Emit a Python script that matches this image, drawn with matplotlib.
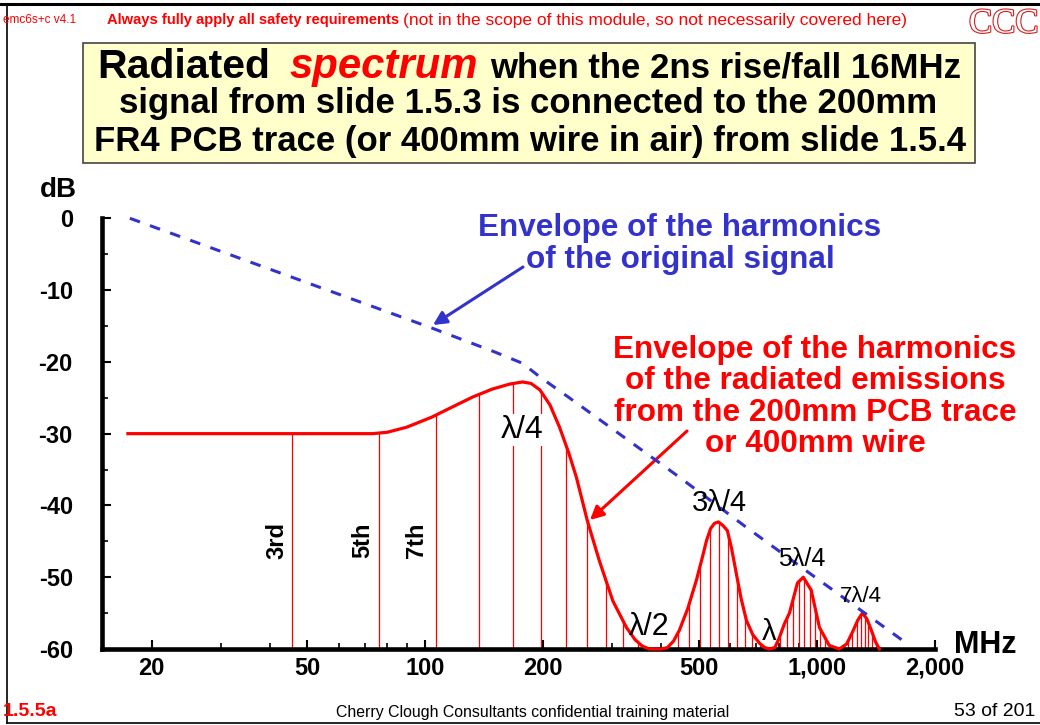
import matplotlib
matplotlib.use("Agg")
import matplotlib.pyplot as plt
import matplotlib.patheffects as pe
from matplotlib.lines import Line2D
from matplotlib.patches import Polygon, Rectangle
from matplotlib.ticker import NullFormatter

plt.rcParams['font.family'] = ['Liberation Sans', 'DejaVu Sans']

# envelope of the harmonics of the original signal (MHz, dB)
orig_f = [17.6, 104, 150, 177, 196, 233, 446, 658, 1000, 1722]
orig_db = [0, -15.3, -18.6, -20.2, -22.1, -25.0, -36.1, -43.0, -50.2, -59.5]

# envelope of the radiated emissions (MHz, dB)
rad_f = [17.4, 73.4, 80, 89.6, 103.8, 118, 132, 148, 164, 177, 186, 196, 208,
         220, 232, 243, 259, 278, 301, 326, 343, 358, 373, 400, 415, 430, 445,
         468, 492, 508, 522, 535, 547, 560, 575, 590, 605, 622, 640, 660, 685,
         713, 735, 756, 780, 800, 825, 850, 891, 922, 966, 1014, 1074, 1140,
         1190, 1230, 1270, 1305, 1340, 1376, 1410, 1442]
rad_db = [-30, -30, -29.8, -29.1, -27.7, -26.2, -24.9, -23.8, -23.1, -22.8,
          -23.0, -23.9, -26.0, -29.1, -32.6, -36.1, -42.1, -47.7, -53.3, -57.0,
          -58.7, -59.6, -60, -60, -59.8, -58.9, -57.4, -54.3, -50.4, -47.5,
          -44.9, -43.2, -42.5, -42.3, -42.8, -43.5, -46.0, -49.5, -53.0, -56.0,
          -58.0, -59.2, -59.8, -60, -59.8, -58.5, -56.5, -55.0, -50.8, -50.0,
          -51.8, -57.0, -59.5, -60, -59.3, -57.7, -56.0, -55.0, -55.8, -57.4,
          -59.0, -60]

# odd harmonic lines: spacing (MHz)
line_spacing = 15.2
harm_n = [3, 5, 7, 9, 11, 13, 15, 17, 19, 21, 23, 25, 27, 29, 31, 33, 35, 37,
          39, 41, 43, 45, 47, 49, 51, 53, 55, 57, 59, 61, 63, 65, 67, 69, 71,
          73, 75, 77, 79, 81, 83, 85, 87, 89, 91, 93, 95]

xticks = [20, 50, 100, 200, 500, 1000, 2000]
xtick_labels = ['20', '50', '100', '200', '500', '1,000', '2,000']
xminor = [30, 40, 60, 70, 80, 90, 300, 400, 600, 700, 800, 900]
yticks = [0, -10, -20, -30, -40, -50, -60]
yminor = [-5, -15, -25, -35, -45, -55]

W, H = 1040, 725
RED = '#FF0000'
BLUE = '#3333CC'


def P(x, y):
    # pixel position on the slide -> figure fraction
    return x / W, 1 - y / H


fig = plt.figure(figsize=(W / 100, H / 100), dpi=100)
ax = fig.add_axes([102 / W, 1 - 649 / H, (935 - 102) / W, (649 - 218.3) / H])
ax.set_xscale('log')
ax.set_xlim(14.94, 2000)
ax.set_ylim(-60, 0)

for s in ['top', 'right']:
    ax.spines[s].set_visible(False)
for s in ['left', 'bottom']:
    ax.spines[s].set_linewidth(3.3)

ax.set_xticks(xticks, labels=xtick_labels, fontweight='bold', fontsize=17)
ax.set_xticks(xminor, minor=True)
ax.xaxis.set_minor_formatter(NullFormatter())
ax.set_yticks(yticks, labels=[str(v) for v in yticks], fontweight='bold', fontsize=17)
ax.set_yticks(yminor, minor=True)
ax.tick_params(which='major', direction='in', length=6.7, width=1.5, color='black')
ax.tick_params(which='minor', direction='in', length=4, width=1.2, color='black')
ax.tick_params(axis='y', which='major', pad=21)
ax.tick_params(axis='x', which='major', pad=5.5)

# harmonic lines, clipped to the area under the radiated envelope
clip_poly = Polygon(list(zip(rad_f, rad_db)) + [(rad_f[-1], -60), (rad_f[0], -60)],
                    closed=True, transform=ax.transData)
harm_f = [line_spacing * n for n in harm_n]
vl = ax.vlines(harm_f, -60, 0, colors=RED, linewidth=0.9, zorder=2)
vl.set_clip_path(clip_poly)

ax.plot(rad_f, rad_db, color=RED, lw=2.3, zorder=3, clip_on=False,
        solid_joinstyle='round')
ax.plot(orig_f, orig_db, color=BLUE, lw=2.2, linestyle=(0, (3.5, 3.5)),
        zorder=4, clip_on=False)

# harmonic labels
for f, txt in [(41.7, '3rd'), (69.2, '5th'), (95.0, '7th')]:
    ax.text(f, -44.9, txt, rotation=90, ha='center', va='center',
            fontsize=17, fontweight='bold')

# wavelength labels
ax.text(177, -29.5, 'λ/4', ha='center', va='center', fontsize=23, zorder=5,
        bbox=dict(facecolor='white', edgecolor='none', pad=1))
ax.text(373, -57.0, 'λ/2', ha='center', va='center', fontsize=22, zorder=5)
ax.text(563, -39.7, '3λ/4', ha='center', va='center', fontsize=21, zorder=5)
ax.text(912, -47.5, '5λ/4', ha='center', va='center', fontsize=18, zorder=5)
ax.text(1297, -52.7, '7λ/4', ha='center', va='center', fontsize=16, zorder=5)
ax.text(756, -57.7, 'λ', ha='center', va='center', fontsize=21, zorder=5)

# annotations
fig.text(*P(680, 244), 'Envelope of the harmonics\nof the original signal',
         ha='center', va='center', fontsize=22.7, fontweight='bold',
         color=BLUE, linespacing=1.05)
ax.annotate('', xy=P(433, 325), xytext=P(523, 267), xycoords='figure fraction',
            textcoords='figure fraction',
            arrowprops=dict(arrowstyle='-|>', color=BLUE, lw=2.2, mutation_scale=20,
                            shrinkA=0, shrinkB=0))
fig.text(*P(815, 397), 'Envelope of the harmonics\nof the radiated emissions\n'
         'from the 200mm PCB trace\nor 400mm wire',
         ha='center', va='center', fontsize=22.7, fontweight='bold',
         color=RED, linespacing=1.05)
ax.annotate('', xy=P(590, 520), xytext=P(687, 431), xycoords='figure fraction',
            textcoords='figure fraction',
            arrowprops=dict(arrowstyle='-|>', color=RED, lw=2.2, mutation_scale=20,
                            shrinkA=0, shrinkB=0))

fig.text(*P(58, 190), 'dB', ha='center', va='center', fontsize=20, fontweight='bold')
fig.text(*P(985, 645), 'MHz', ha='center', va='center', fontsize=22, fontweight='bold')

# title box
x0, y0 = P(82.7, 162.7)
x1, y1 = P(975, 42.7)
fig.patches.append(Rectangle((x0, y0), x1 - x0, y1 - y0, transform=fig.transFigure,
                             facecolor='#FFFFCC', edgecolor='#444444', lw=1.2))
fig.text(*P(97, 78), 'Radiated', ha='left', va='baseline', fontsize=29.5,
         fontweight='bold')
fig.text(*P(290, 78), 'spectrum', ha='left', va='baseline', fontsize=30.2,
         fontweight='bold', fontstyle='italic', color=RED)
fig.text(*P(490, 78), 'when the 2ns rise/fall 16MHz', ha='left', va='baseline',
         fontsize=25, fontweight='bold')
fig.text(*P(528, 113), 'signal from slide 1.5.3 is connected to the 200mm',
         ha='center', va='baseline', fontsize=25, fontweight='bold')
fig.text(*P(530, 151), 'FR4 PCB trace (or 400mm wire in air) from slide 1.5.4',
         ha='center', va='baseline', fontsize=25, fontweight='bold')

# slide header and footer
fig.text(*P(3, 20), 'emc6s+c v4.1', ha='left', va='center', fontsize=8.5, color=RED)
fig.text(*P(107, 20), 'Always fully apply all safety requirements', ha='left',
         va='center', fontsize=10.6, fontweight='bold', color=RED)
fig.text(*P(403, 20), '(not in the scope of this module, so not necessarily covered here)',
         ha='left', va='center', fontsize=12.5, color=RED)
fig.text(*P(969, 24), 'CCC', ha='left', va='center', fontsize=25,
         family='Liberation Serif', color='white',
         path_effects=[pe.Stroke(linewidth=1.6, foreground='#D02020'), pe.Normal()])
fig.text(*P(3, 712), '1.5.5a', ha='left', va='center', fontsize=14,
         fontweight='bold', color=RED)
fig.text(*P(533, 712), 'Cherry Clough Consultants confidential training material',
         ha='center', va='center', fontsize=11.4)
fig.text(*P(1035, 712), '53 of 201', ha='right', va='center', fontsize=14)

# slide frame
fig.add_artist(Line2D([0, 1], [1 - 4 / H] * 2, color='black', lw=2.2,
                      transform=fig.transFigure))
fig.add_artist(Line2D([7 / W] * 2, [1 - 4 / H, 1 - 723 / H], color='black', lw=1.2,
                      transform=fig.transFigure))
fig.add_artist(Line2D([7 / W, 1], [1 - 723 / H] * 2, color='black', lw=1.2,
                      transform=fig.transFigure))

fig.savefig('out.png', dpi=100)
